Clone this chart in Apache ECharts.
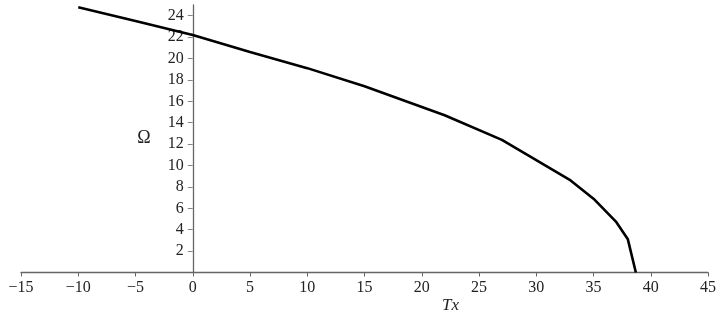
<!DOCTYPE html>
<html><head><meta charset="utf-8">
<script src="https://cdn.jsdelivr.net/npm/echarts@6/dist/echarts.min.js"></script>
<style>html,body{margin:0;padding:0;background:#fff}#c{width:723px;height:320px}</style>
</head><body><div id="c"></div>
<script>
const txValues = [-10, -5, 0, 5, 10, 15, 22, 27, 33, 35, 37, 38, 38.7];
const omegaValues = [24.8, 23.5, 22.2, 20.6, 19.1, 17.4, 14.7, 12.4, 8.6, 6.9, 4.7, 3.1, 0];
const yTickValues = [2, 4, 6, 8, 10, 12, 14, 16, 18, 20, 22, 24];
const xName = 'Tx';
const yName = 'Ω';

const font = "'Liberation Serif','Times New Roman',serif";
const gridLeft = 21;
const chart = echarts.init(document.getElementById('c'));
chart.setOption({
  animation: false,
  backgroundColor: '#fff',
  grid: { left: gridLeft, right: 15, top: 5, bottom: 47.5, containLabel: false, outerBoundsMode: 'none' },
  xAxis: {
    type: 'value', min: -15, max: 45, interval: 5,
    axisLine: { show: true, onZero: false, lineStyle: { color: '#666', width: 1.3 } },
    axisTick: { show: true, inside: false, length: 4, lineStyle: { color: '#666' } },
    splitLine: { show: false },
    axisLabel: { color: '#222', fontFamily: font, fontSize: 16, margin: 7,
      formatter: v => (v < 0 ? '\u2212' + Math.abs(v) : String(v)) }
  },
  yAxis: {
    type: 'value', min: 0, max: 25,
    name: yName, nameLocation: 'middle', nameGap: 42, nameRotate: 0,
    nameTextStyle: { color: '#222', fontFamily: font, fontSize: 18, padding: [6, 0, 0, 0] },
    axisLine: { show: true, onZero: false, lineStyle: { color: '#666', width: 1.3 } },
    axisTick: { show: true, length: 5, customValues: yTickValues, lineStyle: { color: '#888' } },
    splitLine: { show: false },
    axisLabel: { color: '#222', fontFamily: font, fontSize: 16, margin: 9, customValues: yTickValues }
  },
  graphic: [{
    type: 'text', left: 442, top: 297,
    style: { text: xName, fontFamily: font, fontSize: 17, fontStyle: 'italic', fill: '#222' }
  }],
  series: [{
    type: 'line',
    data: txValues.map((x, i) => [x, omegaValues[i]]),
    showSymbol: false, smooth: false,
    lineStyle: { color: '#000', width: 2.6 }
  }]
});
const zeroX = chart.convertToPixel({ xAxisIndex: 0 }, 0);
chart.setOption({ yAxis: { offset: -(zeroX - gridLeft) } });
</script></body></html>
